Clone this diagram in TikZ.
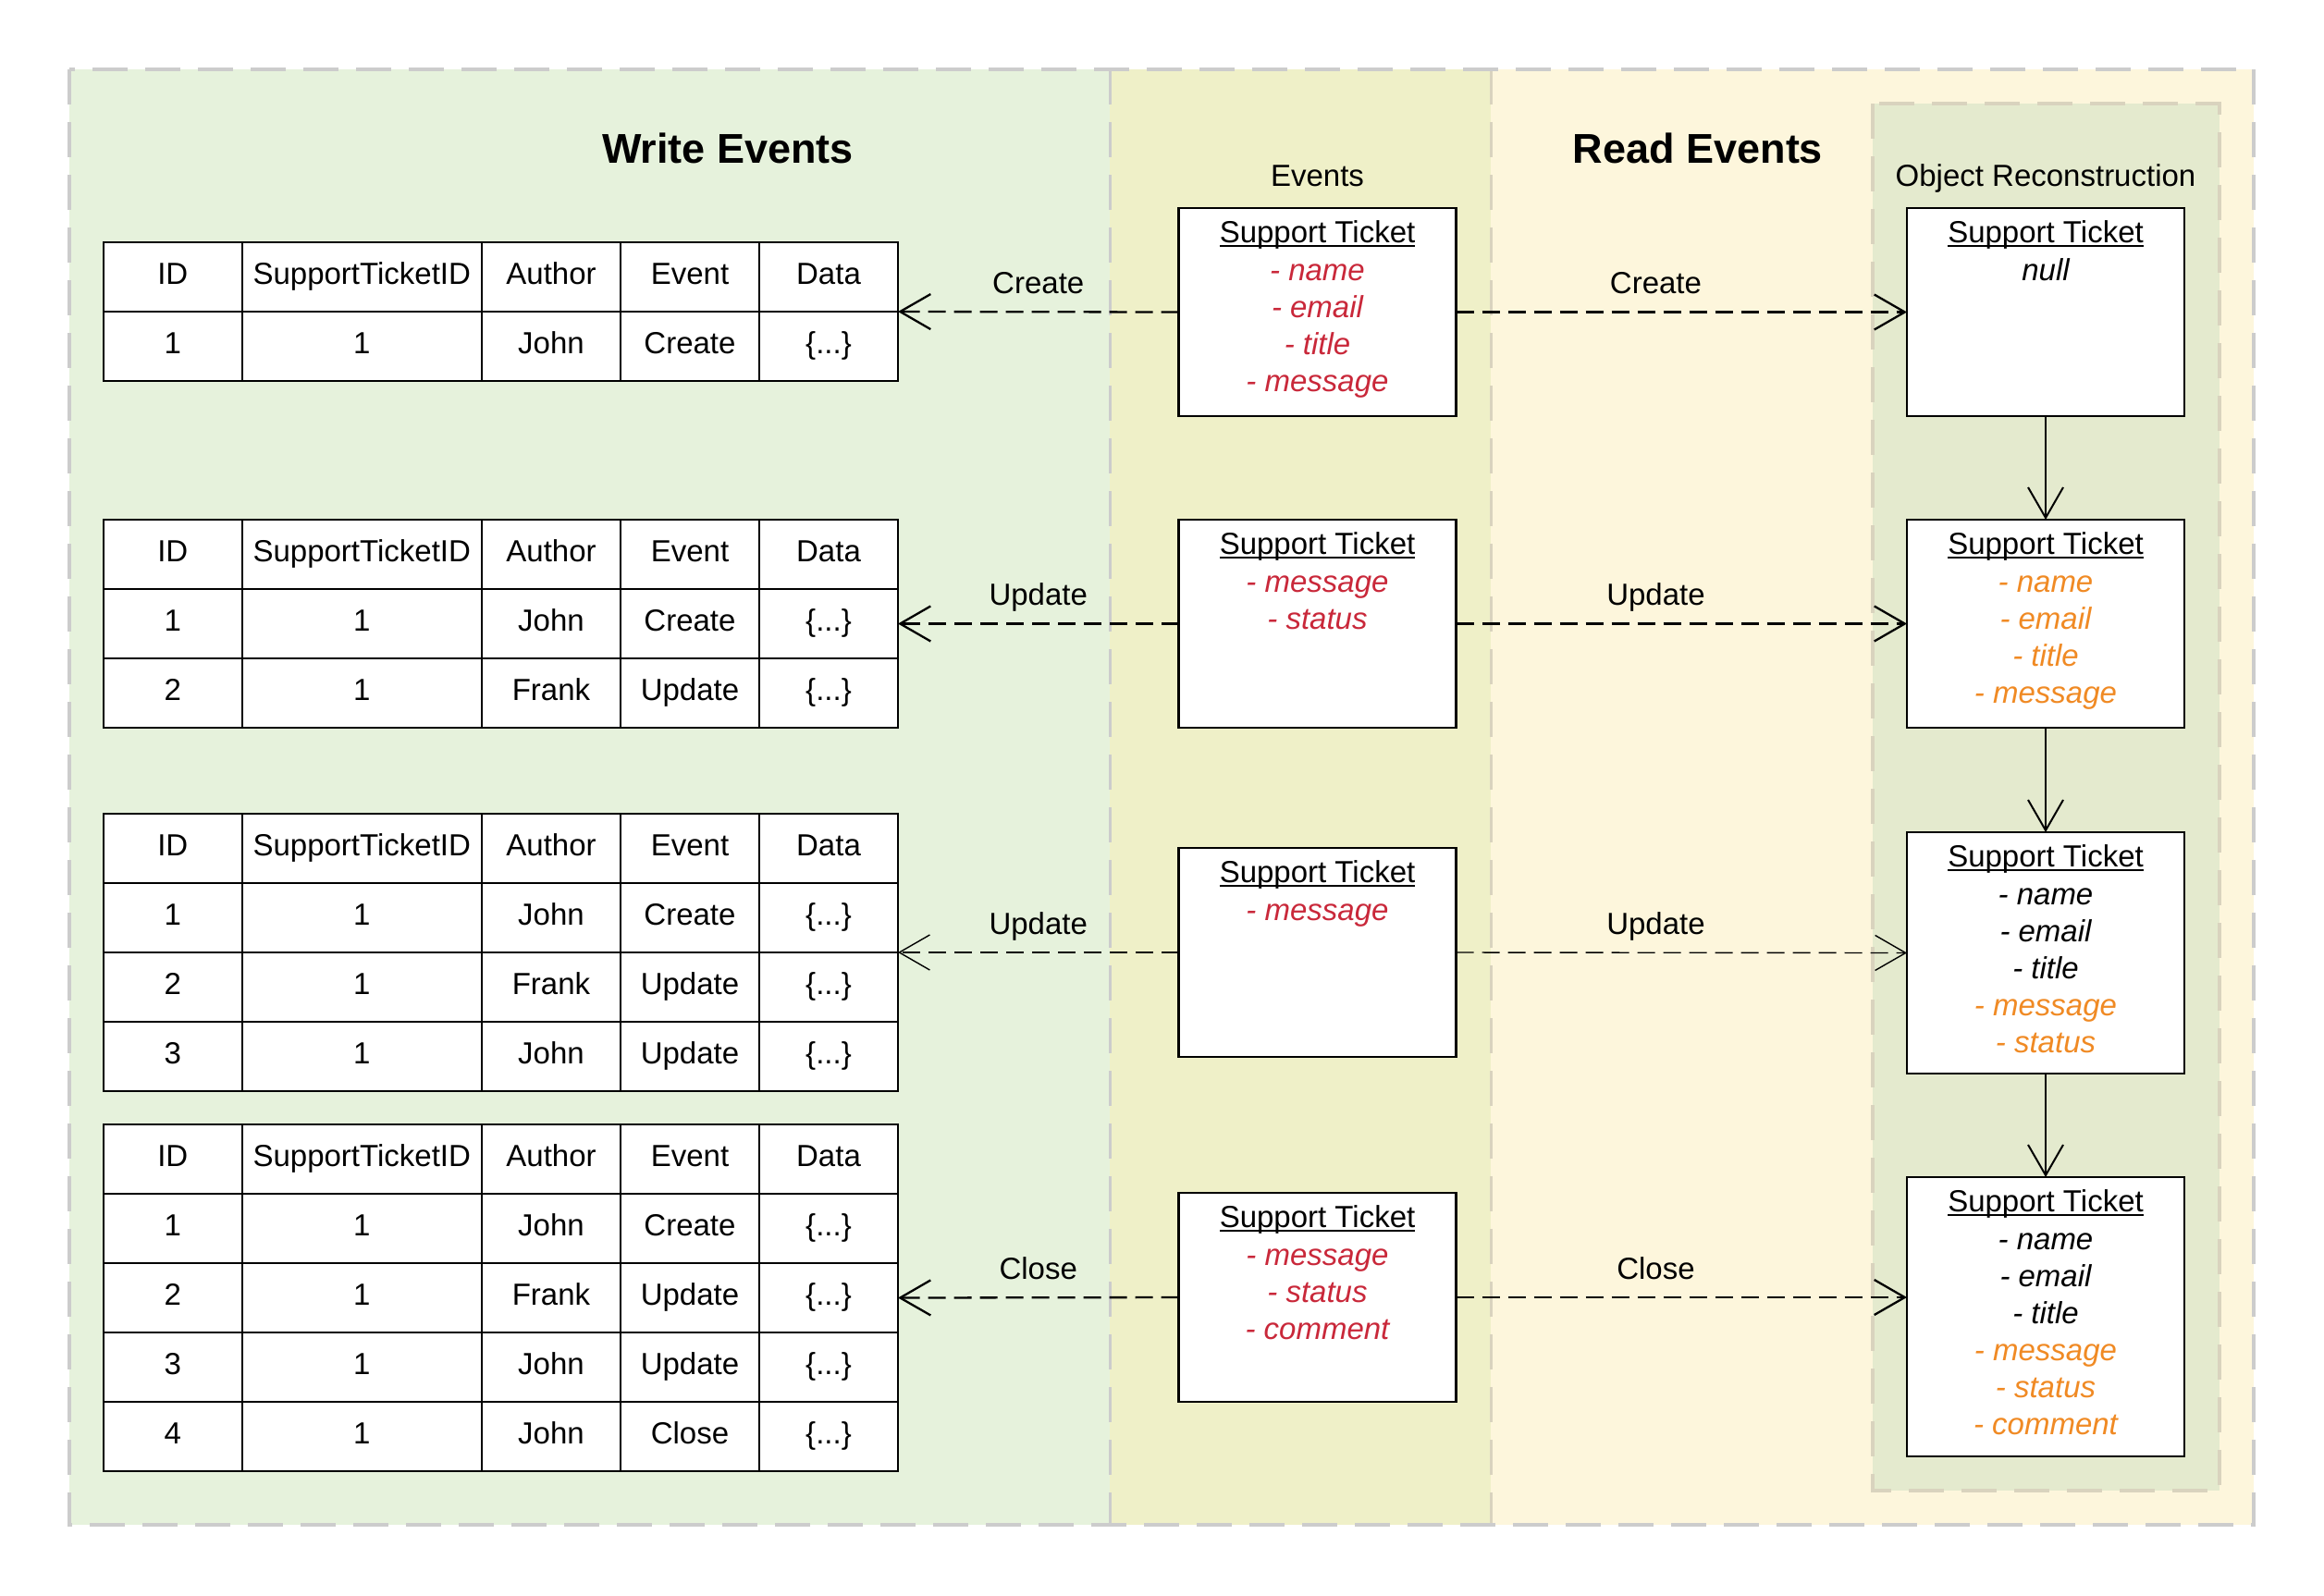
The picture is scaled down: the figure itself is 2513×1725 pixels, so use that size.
\documentclass[tikz,border=0pt]{standalone}
\usepackage{fontspec}
\setmainfont{Liberation Sans}
\usetikzlibrary{arrows.meta}
\definecolor{writebg}{RGB}{230,242,220}
\definecolor{evbg}{RGB}{239,240,200}
\definecolor{readbg}{RGB}{253,246,220}
\definecolor{objbg}{RGB}{228,234,206}
\definecolor{bordgrey}{RGB}{204,204,204}
\definecolor{bordbeige}{RGB}{217,211,190}
\definecolor{fieldred}{RGB}{201,40,58}
\definecolor{fieldorange}{RGB}{240,138,36}
\newcommand\fldred[1]{{\color{fieldred}\itshape - #1}}
\newcommand\fldorg[1]{{\color{fieldorange}\itshape - #1}}
\newcommand\fldblk[1]{{\itshape - #1}}
\newcommand\myul[1]{\leavevmode\vtop{\hbox{#1}\kern-4pt\hrule height 2.5pt}}
\newcommand\sthead{\myul{Support Ticket}\\[1.7pt]}
\newcommand\mytabrow[8]{%
  \pgfmathsetmacro\rowy{#2+75*#3+37.5}%
  \node[cell,minimum width=149.5pt] (#1-#3-1) at (186.75,\rowy) {#4};%
  \node[cell,minimum width=259.5pt] (#1-#3-2) at (391.25,\rowy) {#5};%
  \node[cell,minimum width=150pt] (#1-#3-3) at (596,\rowy) {#6};%
  \node[cell,minimum width=150pt] (#1-#3-4) at (746,\rowy) {#7};%
  \node[cell,minimum width=150pt] (#1-#3-5) at (896,\rowy) {#8};%
}
\begin{document}
\begin{tikzpicture}[x=1pt,y=-1pt,
  txt/.style={font=\fontsize{33}{40}\selectfont},
  bigtitle/.style={font=\fontsize{45}{54}\selectfont\bfseries, anchor=base, inner sep=0pt},
  coltitle/.style={txt, anchor=base, inner sep=0pt},
  cell/.style={txt, draw, line width=2pt, fill=white, inner sep=0pt, outer sep=0pt,
    minimum height=75pt, text height=24pt, text depth=8pt},
  tbox/.style={draw, line width=2.5pt, fill=white, minimum width=300pt, inner sep=0pt, outer sep=0pt},
  content/.style={txt, align=center, inner sep=0pt, anchor=north},
  regionborder/.style={line width=4pt, dash pattern=on 38pt off 19pt},
  evarrow/.style={line width=2.3pt, dash pattern=on 19pt off 9pt,
    -{Straight Barb[length=33pt,width=38pt]}},
  thinarrow/.style={evarrow, line width=1.4pt},
  objarrow/.style={line width=2pt, -{Straight Barb[length=33pt,width=38pt]}},
  lbl/.style={txt, anchor=base, inner sep=0pt, yshift=20pt}
]
\useasboundingbox (0,0) rectangle (2513,1725);
\fill[white] (0,0) rectangle (2513,1725);
% regions
\fill[writebg] (75,75) rectangle (1200,1649);
\fill[evbg] (1200,75) rectangle (1612,1649);
\fill[readbg] (1612,75) rectangle (2437,1649);
\draw[regionborder, draw=bordbeige, fill=objbg] (2025,112) rectangle (2400,1612);
\draw[regionborder, draw=bordbeige, line width=3pt] (1612,75) -- (1612,1649);
\draw[regionborder, draw=bordgrey, line width=3pt] (1200,75) -- (1200,1649);
\draw[regionborder, draw=bordgrey] (75,75) rectangle (2437,1649);

% titles
\node[bigtitle] (wtitle) at (787,176) {Write Events};
\node[bigtitle] (rtitle) at (1836,176) {Read Events};
\node[coltitle] (evtitle) at (1424.5,201) {Events};
\node[coltitle] (ortitle) at (2212,201) {Object Reconstruction};

% tables
\mytabrow{t1}{262}{0}{ID}{SupportTicketID}{Author}{Event}{Data}
\mytabrow{t1}{262}{1}{1}{1}{John}{Create}{\{...\}}

\mytabrow{t2}{562}{0}{ID}{SupportTicketID}{Author}{Event}{Data}
\mytabrow{t2}{562}{1}{1}{1}{John}{Create}{\{...\}}
\mytabrow{t2}{562}{2}{2}{1}{Frank}{Update}{\{...\}}

\mytabrow{t3}{880}{0}{ID}{SupportTicketID}{Author}{Event}{Data}
\mytabrow{t3}{880}{1}{1}{1}{John}{Create}{\{...\}}
\mytabrow{t3}{880}{2}{2}{1}{Frank}{Update}{\{...\}}
\mytabrow{t3}{880}{3}{3}{1}{John}{Update}{\{...\}}

\mytabrow{t4}{1216}{0}{ID}{SupportTicketID}{Author}{Event}{Data}
\mytabrow{t4}{1216}{1}{1}{1}{John}{Create}{\{...\}}
\mytabrow{t4}{1216}{2}{2}{1}{Frank}{Update}{\{...\}}
\mytabrow{t4}{1216}{3}{3}{1}{John}{Update}{\{...\}}
\mytabrow{t4}{1216}{4}{4}{1}{John}{Close}{\{...\}}

% event boxes
\node[tbox, minimum height=225pt] (e1) at (1424.5,337.5) {};
\node[tbox, minimum height=225pt] (e2) at (1424.5,674.5) {};
\node[tbox, minimum height=226pt] (e3) at (1424.5,1030) {};
\node[tbox, minimum height=226pt] (e4) at (1424.5,1403) {};
\node[content] (e1c) at ([yshift=-13pt]e1.north) {\sthead\fldred{name}\\\fldred{email}\\\fldred{title}\\\fldred{message}};
\node[content] (e2c) at ([yshift=-13pt]e2.north) {\sthead\fldred{message}\\\fldred{status}};
\node[content] (e3c) at ([yshift=-13pt]e3.north) {\sthead\fldred{message}};
\node[content] (e4c) at ([yshift=-13pt]e4.north) {\sthead\fldred{message}\\\fldred{status}\\\fldred{comment}};

% object boxes
\node[tbox, minimum height=225pt] (o1) at (2212,337.5) {};
\node[tbox, minimum height=225pt] (o2) at (2212,674.5) {};
\node[tbox, minimum height=261pt] (o3) at (2212,1030.5) {};
\node[tbox, minimum height=302pt] (o4) at (2212,1424) {};
\node[content] (o1c) at ([yshift=-13pt]o1.north) {\sthead{\itshape null}};
\node[content] (o2c) at ([yshift=-13pt]o2.north) {\sthead\fldorg{name}\\\fldorg{email}\\\fldorg{title}\\\fldorg{message}};
\node[content] (o3c) at ([yshift=-13pt]o3.north) {\sthead\fldblk{name}\\\fldblk{email}\\\fldblk{title}\\\fldorg{message}\\\fldorg{status}};
\node[content] (o4c) at ([yshift=-13pt]o4.north) {\sthead\fldblk{name}\\\fldblk{email}\\\fldblk{title}\\\fldorg{message}\\\fldorg{status}\\\fldorg{comment}};

% arrows to tables
\draw[evarrow] (e1.west) -- node[lbl] (l1) {Create} (t1-0-5.south east);
\draw[evarrow] (e2.west) -- node[lbl] (l2) {Update} (t2-1-5.east);
\draw[thinarrow] (e3.west) -- node[lbl] (l3) {Update} (t3-1-5.south east);
\draw[evarrow] (e4.west) -- node[lbl] (l4) {Close} (t4-2-5.east);

% arrows to objects
\draw[evarrow] (e1.east) -- node[lbl, pos=0.443] (r1) {Create} (o1.west);
\draw[evarrow] (e2.east) -- node[lbl, pos=0.443] (r2) {Update} (o2.west);
\draw[thinarrow] (e3.east) -- node[lbl, pos=0.443] (r3) {Update} (o3.west);
\draw[evarrow] (e4.east) -- node[lbl, pos=0.443] (r4) {Close} (e4.east -| o4.west);

% object chain
\draw[objarrow] (o1.south) -- (o2.north);
\draw[objarrow] (o2.south) -- (o3.north);
\draw[objarrow] (o3.south) -- (o4.north);
\end{tikzpicture}
\end{document}
